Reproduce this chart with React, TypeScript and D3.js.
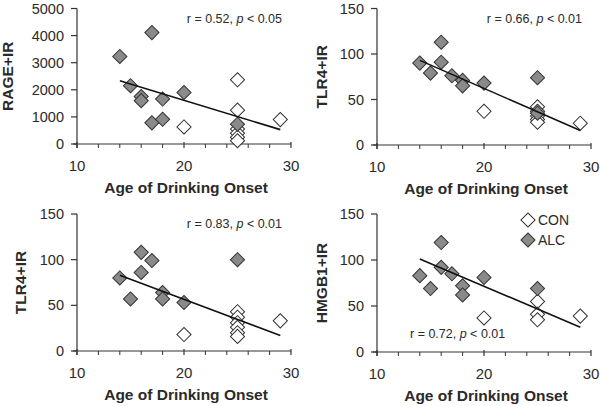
import React from "react";
import * as d3 from "d3";

// ---------- data ----------
const xTicks = [10, 20, 30];
const xMinorTicks = [12, 14, 16, 18, 22, 24, 26, 28];
const xTitle = "Age of Drinking Onset";

// Panel A: RAGE+IR
const rageConX = [25, 25, 25, 25, 25, 25, 20, 29];
const rageConY = [2370, 1250, 550, 400, 250, 120, 630, 900];
const rageAlcX = [14, 17, 15, 16, 16, 18, 20, 17, 18, 25];
const rageAlcY = [3230, 4110, 2150, 1750, 1600, 1660, 1900, 780, 910, 730];
const rageFitX = [14, 29];
const rageFitY = [2330, 530];
const rageTicks = [0, 1000, 2000, 3000, 4000, 5000];

// Panel B: TLR4+IR (top)
const tlrAConX = [20, 29, 25, 25, 25, 25, 25];
const tlrAConY = [37, 24, 42, 37, 32, 28, 25];
const tlrAAlcX = [14, 15, 16, 16, 17, 18, 18, 20, 25, 25];
const tlrAAlcY = [90, 79, 113, 91, 76, 71, 65, 68, 74, 35];
const tlrAFitX = [14, 29];
const tlrAFitY = [93, 16];

// Panel C: TLR4+IR (bottom)
const tlrBConX = [20, 29, 25, 25, 25, 25, 25, 25];
const tlrBConY = [18, 33, 43, 37, 31, 26, 20, 16];
const tlrBAlcX = [14, 15, 16, 16, 17, 18, 18, 20, 25];
const tlrBAlcY = [80, 57, 108, 86, 99, 64, 57, 53, 100];
const tlrBFitX = [14, 29];
const tlrBFitY = [83, 17];

// Panel D: HMGB1+IR
const hmgConX = [20, 29, 25, 25, 25];
const hmgConY = [37, 39, 55, 41, 35];
const hmgAlcX = [14, 15, 16, 16, 17, 18, 18, 20, 25];
const hmgAlcY = [83, 69, 119, 92, 85, 72, 62, 81, 69];
const hmgFitX = [14, 29];
const hmgFitY = [101, 27];

const smallTicks = [0, 50, 100, 150];
const legendLabels = ["CON", "ALC"];

// ---------- layout / style ----------
const FONT = "'Liberation Sans', Arial, Helvetica, sans-serif";
const ALC_FILL = "#8a8a8a";
const STROKE = "#333";
const TEXT = "#2a2a2a";

type Panel = {
  ylabel: string;
  yMax: number;
  yTicks: number[];
  conX: number[];
  conY: number[];
  alcX: number[];
  alcY: number[];
  fitX: number[];
  fitY: number[];
  stat: string[];
  statPos: "tr" | "bl";
  legend: boolean;
  x0: number;
  x1: number;
  y0: number;
  y1: number;
  labelX: number;
};

const panels: Panel[] = [
  {
    ylabel: "RAGE+IR", yMax: 5000, yTicks: rageTicks,
    conX: rageConX, conY: rageConY, alcX: rageAlcX, alcY: rageAlcY,
    fitX: rageFitX, fitY: rageFitY, stat: ["0.52", "0.05"], statPos: "tr", legend: false,
    x0: 77, x1: 291, y0: 144, y1: 8.5, labelX: 8,
  },
  {
    ylabel: "TLR4+IR", yMax: 150, yTicks: smallTicks,
    conX: tlrAConX, conY: tlrAConY, alcX: tlrAAlcX, alcY: tlrAAlcY,
    fitX: tlrAFitX, fitY: tlrAFitY, stat: ["0.66", "0.01"], statPos: "tr", legend: false,
    x0: 377, x1: 591, y0: 145, y1: 8.5, labelX: 322,
  },
  {
    ylabel: "TLR4+IR", yMax: 150, yTicks: smallTicks,
    conX: tlrBConX, conY: tlrBConY, alcX: tlrBAlcX, alcY: tlrBAlcY,
    fitX: tlrBFitX, fitY: tlrBFitY, stat: ["0.83", "0.01"], statPos: "tr", legend: false,
    x0: 77, x1: 291, y0: 351, y1: 214, labelX: 21,
  },
  {
    ylabel: "HMGB1+IR", yMax: 150, yTicks: smallTicks,
    conX: hmgConX, conY: hmgConY, alcX: hmgAlcX, alcY: hmgAlcY,
    fitX: hmgFitX, fitY: hmgFitY, stat: ["0.72", "0.01"], statPos: "bl", legend: true,
    x0: 377, x1: 591, y0: 352, y1: 214, labelX: 322,
  },
];

const diamond = d3.symbol().type(d3.symbolSquare).size(100)() as string;

function Marker({ x, y, alc }: { x: number; y: number; alc: boolean }) {
  return (
    <path
      d={diamond}
      transform={`translate(${x},${y}) rotate(45)`}
      fill={alc ? ALC_FILL : "#fff"}
      stroke={STROKE}
      strokeWidth={1}
    />
  );
}

function PanelView({ p }: { p: Panel }) {
  const xs = d3.scaleLinear().domain([10, 30]).range([p.x0, p.x1]);
  const ys = d3.scaleLinear().domain([0, p.yMax]).range([p.y0, p.y1]);
  const line = d3
    .line<number>()
    .x((_, i) => xs(p.fitX[i]))
    .y((_, i) => ys(p.fitY[i]));
  const statText = (
    <>
      {"r = " + p.stat[0] + ", "}
      <tspan fontStyle="italic">p</tspan>
      {" < " + p.stat[1]}
    </>
  );
  return (
    <g fontFamily={FONT}>
      {/* axes */}
      <line x1={p.x0} x2={p.x0} y1={p.y1} y2={p.y0 + 4} stroke={STROKE} strokeWidth={1.2} />
      <line x1={p.x0 - 4} x2={p.x1} y1={p.y0} y2={p.y0} stroke={STROKE} strokeWidth={1.2} />
      {p.yTicks.map((t) => (
        <g key={"y" + t}>
          <line x1={p.x0 - 6} x2={p.x0} y1={ys(t)} y2={ys(t)} stroke={STROKE} strokeWidth={1.2} />
          <text x={p.x0 - 13} y={ys(t)} dy="0.35em" textAnchor="end" fontSize={14.5} fill={TEXT}>
            {t}
          </text>
        </g>
      ))}
      {xMinorTicks.map((t) => (
        <line key={"m" + t} x1={xs(t)} x2={xs(t)} y1={p.y0} y2={p.y0 + 4} stroke={STROKE} strokeWidth={1} />
      ))}
      {xTicks.map((t) => (
        <g key={"x" + t}>
          <line x1={xs(t)} x2={xs(t)} y1={p.y0 - 2} y2={p.y0 + 4} stroke={STROKE} strokeWidth={1.2} />
          <text x={xs(t)} y={p.y0 + 27} textAnchor="middle" fontSize={15} fill={TEXT}>
            {t}
          </text>
        </g>
      ))}
      <text
        x={(p.x0 + p.x1) / 2 + 2}
        y={p.y0 + 49}
        textAnchor="middle"
        fontSize={15.5}
        fontWeight="bold"
        fill={TEXT}
      >
        {xTitle}
      </text>
      <text
        transform={`translate(${p.labelX},${(p.y0 + p.y1) / 2}) rotate(-90)`}
        textAnchor="middle"
        dy="0.35em"
        fontSize={15.5}
        fontWeight="bold"
        fill={TEXT}
      >
        {p.ylabel}
      </text>
      {/* points */}
      {p.conX.map((x, i) => (
        <Marker key={"c" + i} x={xs(x)} y={ys(p.conY[i])} alc={false} />
      ))}
      {p.alcX.map((x, i) => (
        <Marker key={"a" + i} x={xs(x)} y={ys(p.alcY[i])} alc={true} />
      ))}
      <path d={line(p.fitX) as string} fill="none" stroke="#111" strokeWidth={1.6} />
      {p.statPos === "tr" ? (
        <text x={p.x1 - 9} y={p.y1 + 14} textAnchor="end" fontSize={12.5} fill={TEXT}>
          {statText}
        </text>
      ) : (
        <text x={p.x0 + 33} y={p.y0 - 14} textAnchor="start" fontSize={12.5} fill={TEXT}>
          {statText}
        </text>
      )}
      {p.legend &&
        legendLabels.map((lab, i) => (
          <g key={lab}>
            <Marker x={p.x1 - 63} y={p.y1 + 6 + i * 20} alc={i === 1} />
            <text x={p.x1 - 53} y={p.y1 + 6 + i * 20} dy="0.35em" fontSize={14} fill={TEXT}>
              {lab}
            </text>
          </g>
        ))}
    </g>
  );
}

export default function App() {
  return (
    <svg
      width={600}
      height={406}
      style={{ position: "absolute", left: 0, top: 0, background: "#fff" }}
    >
      <rect width={600} height={406} fill="#fff" />
      {panels.map((p, i) => (
        <PanelView key={i} p={p} />
      ))}
    </svg>
  );
}
